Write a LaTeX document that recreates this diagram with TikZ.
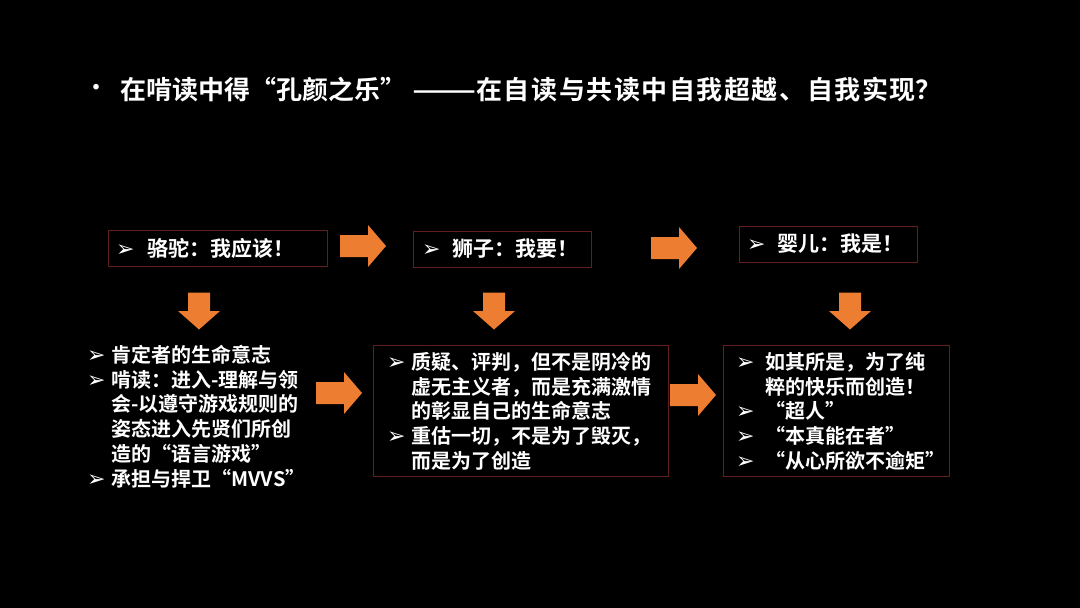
\documentclass[tikz,border=0pt]{standalone}
\usepackage{fontspec}
\setmainfont{Noto Sans CJK SC}[BoldFont={Noto Sans CJK SC Bold}]
\newfontfamily\symfont{DejaVu Sans}
\definecolor{arroworange}{RGB}{237,125,49}
\definecolor{boxred}{RGB}{96,30,28}
\newcommand{\bul}[1][24pt]{\makebox[#1][l]{\symfont\fontsize{22}{22}\selectfont ➢}}
\newcommand{\gap}{\makebox[24pt]{}}
\newcommand{\fw}[1]{\makebox[1em][c]{#1}}
\tikzset{
  pics/rightarrow/.style={code={\fill[arroworange] (-23,-11) -- (5,-11) -- (5,-21) -- (23,0) -- (5,21) -- (5,11) -- (-23,11) -- cycle;}},
  pics/downarrow/.style={code={\fill[arroworange] (-11,-18.5) -- (11,-18.5) -- (11,0) -- (21,0) -- (0,18.5) -- (-21,0) -- (-11,0) -- cycle;}}
}
\begin{document}
\begin{tikzpicture}[x=1pt,y=-1pt,
    every node/.style={text=white,inner sep=0pt,font=\bfseries\fontsize{20}{24.7}\selectfont},
    stagebox/.style={draw=boxred,line width=0.8pt,minimum width=#1,minimum height=36pt},
    listbox/.style={draw=boxred,line width=0.8pt,minimum width=#1,minimum height=131pt},
    listtext/.style={anchor=north west,align=left},
    stagetext/.style={anchor=west,font=\bfseries\fontsize{21}{21}\selectfont}]
            \fill[black] (0,0) rectangle (1080,608);

            \node (dot) at (96,90) {\fontsize{22}{22}\selectfont •};
            \node[anchor=west] (title) at (120,90) {\fontsize{26}{26}\selectfont 在啃读中得“孔颜之乐”\hspace{6pt}\scalebox{1.45}[1]{——}{\addfontfeature{LetterSpace=6}在自读与共读中自我超越、自我实现}\fw{？}};

            \node[stagebox=219pt] (camel) at (217.5,248) {};
            \node[stagebox=178pt] (lion) at (502,249) {};
            \node[stagebox=178pt] (child) at (828,244) {};
            \node[stagetext] (camelT) at (116,248) {\bul[31pt]骆驼\fw{：}我应该\fw{！}};
            \node[stagetext] (lionT) at (422,249) {\bul[30pt]狮子\fw{：}我要\fw{！}};
            \node[stagetext] (childT) at (747,244) {\bul[30pt]婴儿\fw{：}我是\fw{！}};

            \pic at (363,246) {rightarrow};
            \pic at (674,248) {rightarrow};
            \pic at (199,311) {downarrow};
            \pic at (494,311) {downarrow};
            \pic at (850,311) {downarrow};

            \node[listbox=295pt] (lionB) at (520.5,410.5) {};
            \node[listbox=226pt] (childB) at (836,410.5) {};

            \node[listtext] (camelL) at (87,345) {\bul 肯定者的生命意志\\
                \bul 啃读\fw{：}进入-理解与领\\
                \gap 会-以遵守游戏规则的\\
                \gap 姿态进入先贤们所创\\
                \gap 造的“语言游戏”\\
                \bul 承担与捍卫“MVVS”};
            \node[listtext] (lionL) at (387,352) {\bul 质疑、评判，但不是阴冷的\\
                \gap 虚无主义者，而是充满激情\\
                \gap 的彰显自己的生命意志\\
                \bul 重估一切，不是为了毁灭，\\
                \gap 而是为了创造};
            \node[listtext] (childL) at (736,352) {\bul[29pt]如其所是，为了纯\\
                \makebox[29pt]{}粹的快乐而创造\fw{！}\\
                \bul[29pt]“超人”\\
                \bul[29pt]“本真能在者”\\
                \bul[29pt]“从心所欲不逾矩”};

            \pic at (339,393) {rightarrow};
            \pic at (693,395) {rightarrow};
        \end{tikzpicture}
\end{document}
